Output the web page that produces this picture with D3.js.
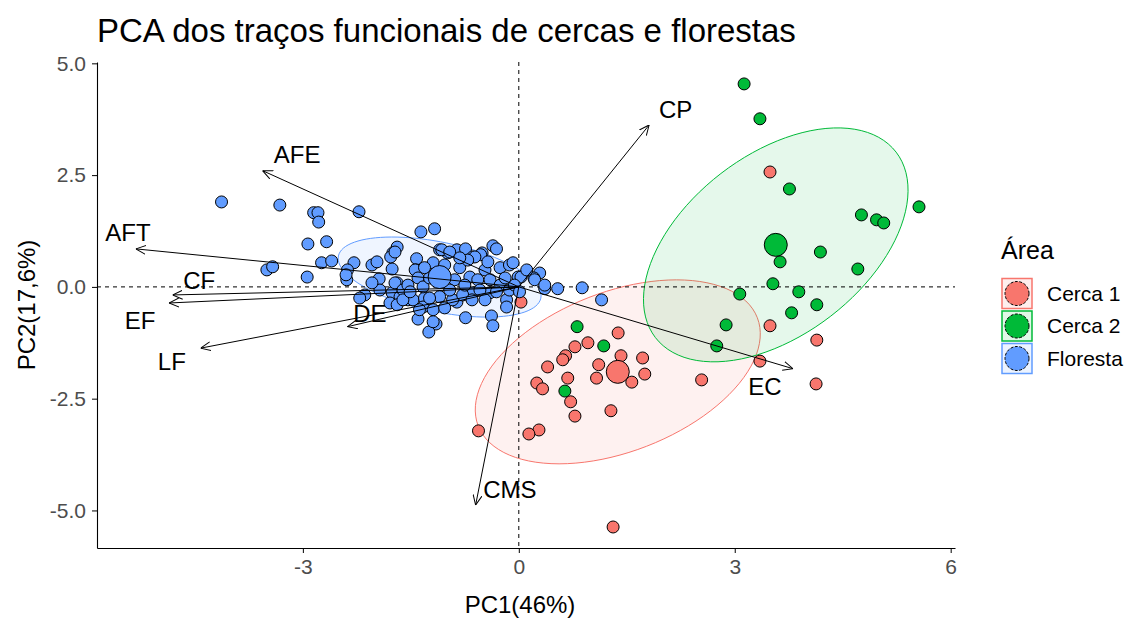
<!DOCTYPE html>
<html>
<head>
<meta charset="utf-8">
<script src="https://cdnjs.cloudflare.com/ajax/libs/d3/7.8.5/d3.min.js"></script>
<style>
body{margin:0;background:#fff;}
text{font-family:"Liberation Sans",Arial,sans-serif;}
</style>
</head>
<body>
<div class="PCA"></div>
<script>
// groups and colours (ggplot default hues)
var groups=["Cerca 1","Cerca 2","Floresta"];
var groupColors=["#F8766D","#00BA38","#619CFF"];

// individuals (PC1, PC2)
var cerca1=[[3.49,2.57],[3.49,-0.87],[4.14,-1.19],[3.35,-1.66],[4.13,-2.17],[2.54,-2.08],[0.03,-0.34],
  [1.38,-1.03],[0.96,-1.25],[0.78,-1.34],[0.65,-1.54],[0.61,-1.63],[1.42,-1.54],[1.72,-1.59],[0.40,-1.79],
  [1.11,-1.74],[1.75,-1.95],[1.08,-2.04],[1.57,-2.13],[0.68,-2.04],[0.25,-2.15],[0.33,-2.28],[0.72,-2.57],
  [1.28,-2.77],[0.78,-2.89],[-0.56,-3.22],[0.28,-3.20],[0.14,-3.29],[1.31,-5.37]];
var cerca2=[[3.13,4.54],[3.35,3.76],[3.76,2.19],[4.76,1.61],[4.97,1.50],[5.07,1.43],[5.56,1.79],[3.63,0.56],
  [4.19,0.78],[4.71,0.40],[3.53,0.07],[3.89,-0.11],[3.07,-0.16],[4.14,-0.40],[3.79,-0.58],[2.88,-0.85],
  [2.75,-1.32],[0.81,-0.89],[1.18,-1.32],[0.64,-2.33]];
var floresta=[[-4.13,1.90],[-3.32,1.83],[-2.85,1.66],[-2.79,1.66],[-2.78,1.45],[-2.93,0.96],[-2.67,1.01],
  [-3.50,0.38],[-3.42,0.45],[-2.74,0.54],[-2.60,0.58],[-2.94,0.22],[-2.22,1.68],[-1.36,1.23],[-1.17,1.30],
  [-1.69,0.89],[-1.75,0.76],[-2.29,0.54],[-2.04,0.49],[-1.97,0.56],[-1.76,0.40],[-1.42,0.63],[-1.43,0.38],
  [-1.19,0.54],[-2.39,0.16],[-1.94,0.18],[-1.69,0.09],[-1.10,0.83],[-0.99,0.76],[-0.86,0.83],[-0.74,0.85],
  [-0.64,0.67],[-0.51,0.76],[-0.36,0.92],[-0.31,0.85],[-0.26,0.43],[-0.13,0.49],[-0.08,0.54],[-0.01,0.22],
  [0.29,0.31],[0.21,0.20],[0.36,-0.04],[0.54,-0.04],[-1.76,-0.13],[-1.65,-0.22],[-1.54,-0.29],[-1.47,-0.29],
  [-1.79,-0.36],[-1.31,-0.25],[-1.10,-0.22],[-0.86,-0.34],[-0.64,-0.13],[-0.40,-0.13],[-0.17,-0.29],
  [-0.17,-0.45],[-1.40,-0.72],[-1.15,-0.83],[-1.25,-1.01],[-0.74,-0.69],[-0.38,-0.65],[-0.36,-0.87],
  [-1.33,-0.45],[-0.53,0.72],[0.03,0.22],[0.22,0.16],[0.36,0.04],[0.88,-0.02],[1.15,-0.29],[-2.38,0.38],
  [-2.40,0.27],[-1.78,0.67],[-1.72,0.78],[-1.72,0.09],[-1.61,-0.07],[-1.69,-0.40],[-1.44,0.38],[-1.40,0.20],
  [-1.54,0.04],[-1.33,0.00],[-0.82,0.43],[-0.68,0.22],[-0.57,0.16],[-1.61,-0.29],[-1.24,-0.25],[-0.92,-0.29],
  [-0.78,-0.18],[-0.65,-0.29],[-1.38,-0.51],[-1.19,-0.51],[-1.19,-0.78],[-0.61,0.67],[-0.71,0.60],
  [-1.07,0.83],[-0.96,0.78],[-1.03,0.49],[-0.89,0.16],[-0.75,0.04],[-0.47,0.38],[-0.40,0.16],[-0.26,0.04],
  [-0.13,-0.07],[-0.54,-0.07],[-0.96,-0.07],[-1.24,0.20],[-1.31,0.43],[-0.47,-0.29],[-0.31,-0.11],
  [-0.06,0.04],[0.01,-0.11],[0.11,0.38],[-0.19,0.20],[-0.82,0.65],[-1.93,-0.07],[-2.14,-0.18],[-2.04,0.09],
  [-2.21,-0.25],[-1.03,-0.47],[-1.51,-0.11],[-0.43,0.56]];

// group means
var meanX=[1.375,3.57,-1.10];
var meanY=[-1.90,0.94,0.22];

// confidence ellipses: two conjugate semi-axes in PC units
var ellipseU=[[1.939,1.210],[1.672,2.074],[1.406,-0.472]];
var ellipseV=[[0.401,-1.664],[0.763,-1.595],[-0.099,-0.761]];

// variables (arrow tips and label spots)
var varNames=["AFE","AFT","CF","EF","LF","DE","CMS","CP","EC"];
var varX=[-3.56,-5.32,-4.81,-4.86,-4.42,-2.38,-0.60,1.81,3.81];
var varY=[2.60,0.85,-0.18,-0.36,-1.37,-0.89,-4.88,3.62,-1.83];
var labelX=[-3.08,-5.43,-4.44,-5.26,-4.82,-2.07,-0.125,2.18,3.42];
var labelY=[2.95,1.21,0.13,-0.76,-1.68,-0.60,-4.54,3.96,-2.24];

var xTicks=[-3,0,3,6];
var yTicks=[-5,-2.5,0,2.5,5];

/*dimensions*/
var width=1126, height=618;
var margin={top:62, bottom:70, left:97, right:171};
var w=width-margin.left-margin.right, h=height-margin.top-margin.bottom;

var xScale=d3.scaleLinear().domain([-5.86,6.06]).range([0,w]);
var yScale=d3.scaleLinear().domain([-5.84,5.03]).range([h,0]);

var svg=d3.select(".PCA").append("svg")
  .attr("width",width)
  .attr("height",height);

// arrowhead
svg.append("defs").append("marker")
  .attr("id","arrowhead")
  .attr("viewBox","0 -5 10 10")
  .attr("refX",10).attr("refY",0)
  .attr("markerWidth",10).attr("markerHeight",10)
  .attr("markerUnits","userSpaceOnUse")
  .attr("orient","auto")
  .append("path")
  .attr("d","M0,-4.5L10,0L0,4.5")
  .attr("fill","none")
  .attr("stroke","black")
  .attr("stroke-width",1);

var g=svg.append("g").attr("transform","translate("+margin.left+","+margin.top+")");

// title
svg.append("text")
  .text("PCA dos traços funcionais de cercas e florestas")
  .attr("x",margin.left)
  .attr("y",42)
  .style("font-size","33px")
  .style("fill","black");

// ellipses
var ellipseLine=d3.line()
  .x(function(d){return xScale(d[0]);})
  .y(function(d){return yScale(d[1]);})
  .curve(d3.curveLinearClosed);

groups.forEach(function(gr,i){
  var pts=d3.range(0,100).map(function(k){
    var t=k/100*2*Math.PI;
    return [meanX[i]+ellipseU[i][0]*Math.cos(t)+ellipseV[i][0]*Math.sin(t),
            meanY[i]+ellipseU[i][1]*Math.cos(t)+ellipseV[i][1]*Math.sin(t)];
  });
  g.append("path")
    .datum(pts)
    .attr("d",ellipseLine)
    .attr("fill",groupColors[i])
    .attr("fill-opacity",0.1)
    .attr("stroke",groupColors[i])
    .attr("stroke-width",1);
});

// zero lines
g.append("line")
  .attr("x1",xScale(0)).attr("x2",xScale(0))
  .attr("y1",0).attr("y2",h)
  .attr("stroke","black").attr("stroke-dasharray","4,4");
g.append("line")
  .attr("x1",0).attr("x2",w)
  .attr("y1",yScale(0)).attr("y2",yScale(0))
  .attr("stroke","black").attr("stroke-dasharray","4,4");

// points
[cerca1,cerca2,floresta].forEach(function(data,i){
  g.append("g").selectAll("circle")
    .data(data)
    .enter().append("circle")
    .attr("cx",function(d){return xScale(d[0]);})
    .attr("cy",function(d){return yScale(d[1]);})
    .attr("r",6)
    .attr("fill",groupColors[i])
    .attr("stroke","black")
    .attr("stroke-width",1);
});

// means
g.append("g").selectAll("circle")
  .data(groups)
  .enter().append("circle")
  .attr("cx",function(d,i){return xScale(meanX[i]);})
  .attr("cy",function(d,i){return yScale(meanY[i]);})
  .attr("r",11.5)
  .attr("fill",function(d,i){return groupColors[i];})
  .attr("stroke","black")
  .attr("stroke-width",1);

// variable arrows
g.append("g").selectAll("line")
  .data(varNames)
  .enter().append("line")
  .attr("x1",xScale(0)).attr("y1",yScale(0))
  .attr("x2",function(d,i){return xScale(varX[i]);})
  .attr("y2",function(d,i){return yScale(varY[i]);})
  .attr("stroke","black")
  .attr("stroke-width",1)
  .attr("marker-end","url(#arrowhead)");

g.append("g").selectAll("text")
  .data(varNames)
  .enter().append("text")
  .text(function(d){return d;})
  .attr("x",function(d,i){return xScale(labelX[i]);})
  .attr("y",function(d,i){return yScale(labelY[i]);})
  .attr("text-anchor","middle")
  .attr("dy","0.35em")
  .style("font-size","24px")
  .style("fill","black");

// axes (plain hyphen for negatives, as in the R output)
var xFmt=function(d){return d3.format("d")(d).replace("\u2212","-");};
var yFmt=function(d){return d3.format(".1f")(d).replace("\u2212","-");};
var xAxis=d3.axisBottom(xScale).tickValues(xTicks).tickFormat(xFmt).tickSize(5).tickSizeOuter(0).tickPadding(6);
var yAxis=d3.axisLeft(yScale).tickValues(yTicks).tickFormat(yFmt).tickSize(5).tickSizeOuter(0).tickPadding(6);

var xg=g.append("g").attr("class","x-axis").attr("transform","translate(0,"+h+")").call(xAxis);
var yg=g.append("g").attr("class","y-axis").call(yAxis);
[xg,yg].forEach(function(a){
  a.select(".domain").attr("stroke","black").attr("stroke-width",1.1);
  a.selectAll(".tick line").attr("stroke","black");
  a.selectAll(".tick text").style("font-size","21px").style("fill","#4D4D4D")
    .style("font-family","'Liberation Sans',Arial,sans-serif");
});

// axis titles
g.append("text")
  .text("PC1(46%)")
  .attr("x",w/2-6)
  .attr("y",h+65)
  .attr("text-anchor","middle")
  .style("font-size","24px")
  .style("fill","black");

g.append("text")
  .text("PC2(17,6%)")
  .attr("transform","translate("+(-62)+","+(h/2)+") rotate(-90)")
  .attr("text-anchor","middle")
  .style("font-size","24px")
  .style("fill","black");

// legend
var legend=svg.append("g").attr("transform","translate(1001,0)");
legend.append("text")
  .text("Área")
  .attr("x",0).attr("y",259)
  .style("font-size","25px")
  .style("fill","black");

var keys=legend.selectAll(".key")
  .data(groups)
  .enter().append("g")
  .attr("class","key")
  .attr("transform",function(d,i){return "translate(0,"+(278+i*32.5)+")";});

keys.append("rect")
  .attr("x",1).attr("y",0.5)
  .attr("width",30).attr("height",30)
  .attr("fill",function(d,i){return groupColors[i];})
  .attr("fill-opacity",0.12)
  .attr("stroke",function(d,i){return groupColors[i];})
  .attr("stroke-width",1.5);

keys.append("circle")
  .attr("cx",16).attr("cy",15.5)
  .attr("r",12)
  .attr("fill",function(d,i){return groupColors[i];})
  .attr("stroke","black")
  .attr("stroke-dasharray","3,1.5");

keys.append("text")
  .text(function(d){return d;})
  .attr("x",46).attr("y",15.5)
  .attr("dy","0.35em")
  .style("font-size","21px")
  .style("fill","black");
</script>
</body>
</html>
